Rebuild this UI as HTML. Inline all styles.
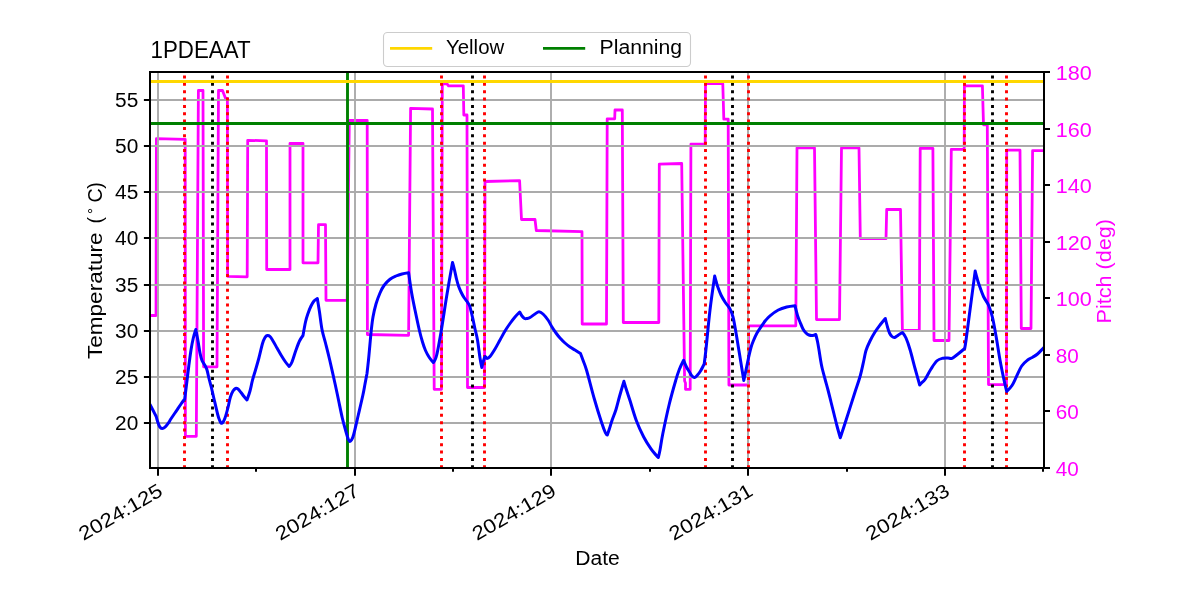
<!DOCTYPE html>
<html><head><meta charset="utf-8"><title>1PDEAAT</title>
<style>html,body{margin:0;padding:0;background:#fff;}body{width:1200px;height:600px;overflow:hidden;}svg{display:block;will-change:transform;}text{font-family:"Liberation Sans", sans-serif;}</style>
</head><body>
<svg width="1200" height="600" viewBox="0 0 1200 600">
<rect width="1200" height="600" fill="#fff"/>
<defs><clipPath id="ax"><rect x="150.0" y="72.0" width="894.0" height="396.0"/></clipPath></defs>
<g clip-path="url(#ax)"><path d="M150.0 315.5L156.0 315.5L156.4 138.7L185.2 139.3L185.4 436.3L196.3 436.3L198.4 90.5L203.0 90.5L203.6 366.8L217.0 366.8L218.5 90.5L222.5 90.5L225.5 98.3L227.4 98.3L227.6 276.3L247.2 276.8L247.7 140.3L266.5 140.8L266.7 269.5L290.0 269.5L290.0 143.3L303.0 143.5L303.0 262.8L318.0 262.8L318.5 224.7L325.5 224.7L326.0 300.3L347.2 300.3L349.3 120.5L367.2 120.5L367.4 334.5L408.6 335.3L410.6 108.3L432.5 109.0L434.2 389.3L441.5 389.3L442.3 83.8L447.0 83.8L448.5 85.8L463.3 85.8L463.8 115.0L467.0 115.0L467.5 387.5L484.5 387.5L485.0 181.5L519.6 180.7L521.5 219.5L535.0 219.5L536.3 230.5L582.0 231.7L582.2 324.0L606.5 324.0L607.2 118.8L614.7 118.8L615.0 110.0L622.3 110.0L623.3 322.5L658.8 322.5L659.3 164.2L681.7 163.5L684.6 381.0L685.5 383.0L685.5 389.3L690.2 389.3L690.9 144.2L705.2 144.2L705.5 83.7L722.8 83.7L723.8 119.2L728.2 119.2L728.9 385.0L748.3 385.0L748.5 325.8L795.8 325.8L797.0 147.8L814.5 147.8L816.5 319.6L839.5 319.6L841.5 147.8L859.0 147.8L860.3 238.7L886.0 238.7L886.7 209.5L900.5 209.5L902.4 330.3L919.3 330.3L920.2 148.3L932.9 148.3L934.0 340.5L949.0 340.5L951.3 149.3L964.2 149.3L964.4 85.8L982.4 85.8L983.5 124.8L987.3 124.8L988.5 384.6L1006.5 384.6L1006.7 150.2L1020.0 150.2L1021.3 328.5L1031.0 328.5L1032.6 150.7L1044.0 150.7" fill="none" stroke="#ff00ff" stroke-width="2.78" stroke-linejoin="round" stroke-linecap="butt"/></g>
<path d="M158.00 72.0V468.0M355.00 72.0V468.0M551.00 72.0V468.0M748.00 72.0V468.0M945.00 72.0V468.0M150.0 423.00H1044.0M150.0 377.00H1044.0M150.0 331.00H1044.0M150.0 285.00H1044.0M150.0 238.00H1044.0M150.0 192.00H1044.0M150.0 146.00H1044.0M150.0 100.00H1044.0" stroke="#ababab" stroke-width="1.9" fill="none"/>
<line x1="184.5" y1="468.3" x2="184.5" y2="72.0" stroke="#ff0000" stroke-width="2.9" stroke-dasharray="3.0 4.355"/>
<line x1="227.5" y1="468.3" x2="227.5" y2="72.0" stroke="#ff0000" stroke-width="2.9" stroke-dasharray="3.0 4.355"/>
<line x1="441.5" y1="468.3" x2="441.5" y2="72.0" stroke="#ff0000" stroke-width="2.9" stroke-dasharray="3.0 4.355"/>
<line x1="484.5" y1="468.3" x2="484.5" y2="72.0" stroke="#ff0000" stroke-width="2.9" stroke-dasharray="3.0 4.355"/>
<line x1="705.5" y1="468.3" x2="705.5" y2="72.0" stroke="#ff0000" stroke-width="2.9" stroke-dasharray="3.0 4.355"/>
<line x1="748.5" y1="468.3" x2="748.5" y2="72.0" stroke="#ff0000" stroke-width="2.9" stroke-dasharray="3.0 4.355"/>
<line x1="964.5" y1="468.3" x2="964.5" y2="72.0" stroke="#ff0000" stroke-width="2.9" stroke-dasharray="3.0 4.355"/>
<line x1="1006.5" y1="468.3" x2="1006.5" y2="72.0" stroke="#ff0000" stroke-width="2.9" stroke-dasharray="3.0 4.355"/>
<line x1="212.5" y1="468.3" x2="212.5" y2="72.0" stroke="#000" stroke-width="2.9" stroke-dasharray="3.0 4.355"/>
<line x1="472.5" y1="468.3" x2="472.5" y2="72.0" stroke="#000" stroke-width="2.9" stroke-dasharray="3.0 4.355"/>
<line x1="732.5" y1="468.3" x2="732.5" y2="72.0" stroke="#000" stroke-width="2.9" stroke-dasharray="3.0 4.355"/>
<line x1="992.5" y1="468.3" x2="992.5" y2="72.0" stroke="#000" stroke-width="2.9" stroke-dasharray="3.0 4.355"/>
<line x1="347.5" y1="72.0" x2="347.5" y2="468.0" stroke="#008000" stroke-width="2.9"/>
<line x1="150.0" y1="81.5" x2="1044.0" y2="81.5" stroke="#ffd700" stroke-width="2.8"/>
<line x1="150.0" y1="123.5" x2="1044.0" y2="123.5" stroke="#008000" stroke-width="2.9"/>
<g clip-path="url(#ax)"><path d="M150.00 404.50C150.00 404.50 151.97 408.30 153.00 410.30C154.03 412.30 156.20 416.50 156.20 416.50C156.20 416.50 157.03 419.92 157.60 421.60C158.17 423.28 158.83 425.43 159.60 426.60C160.37 427.77 161.30 428.50 162.20 428.60C163.10 428.70 163.98 428.10 165.00 427.20C166.02 426.30 167.30 424.60 168.30 423.20C169.30 421.80 169.65 420.87 171.00 418.80C172.35 416.73 174.73 413.27 176.40 410.80C178.07 408.33 179.62 405.97 181.00 404.00C182.38 402.03 184.70 399.00 184.70 399.00C184.70 399.00 186.22 387.10 186.90 381.60C187.58 376.10 188.12 371.27 188.80 366.00C189.48 360.73 190.25 354.67 191.00 350.00C191.75 345.33 192.50 341.42 193.30 338.00C194.10 334.58 195.80 329.50 195.80 329.50C195.80 329.50 197.30 337.08 198.00 341.00C198.70 344.92 199.33 349.75 200.00 353.00C200.67 356.25 201.17 358.42 202.00 360.50C202.83 362.58 204.17 363.92 205.00 365.50C205.83 367.08 206.33 367.83 207.00 370.00C207.67 372.17 208.25 375.50 209.00 378.50C209.75 381.50 210.70 384.75 211.50 388.00C212.30 391.25 212.77 393.58 213.80 398.00C214.83 402.42 216.75 410.83 217.70 414.50C218.65 418.17 218.95 418.58 219.50 420.00C220.05 421.42 220.45 422.58 221.00 423.00C221.55 423.42 222.13 423.33 222.80 422.50C223.47 421.67 224.13 420.50 225.00 418.00C225.87 415.50 227.10 411.00 228.00 407.50C228.90 404.00 229.57 399.75 230.40 397.00C231.23 394.25 232.15 392.42 233.00 391.00C233.85 389.58 234.67 388.83 235.50 388.50C236.33 388.17 237.08 388.33 238.00 389.00C238.92 389.67 240.00 391.25 241.00 392.50C242.00 393.75 243.00 395.25 244.00 396.50C245.00 397.75 247.00 400.00 247.00 400.00C247.00 400.00 249.08 394.30 250.00 391.00C250.92 387.70 251.58 383.70 252.50 380.20C253.42 376.70 254.43 373.70 255.50 370.00C256.57 366.30 257.73 362.42 258.90 358.00C260.07 353.58 261.48 346.92 262.50 343.50C263.52 340.08 264.20 338.83 265.00 337.50C265.80 336.17 266.47 335.67 267.30 335.50C268.13 335.33 269.05 335.58 270.00 336.50C270.95 337.42 271.83 339.08 273.00 341.00C274.17 342.92 275.67 345.67 277.00 348.00C278.33 350.33 279.58 352.67 281.00 355.00C282.42 357.33 284.13 360.08 285.50 362.00C286.87 363.92 289.20 366.50 289.20 366.50C289.20 366.50 290.87 364.75 292.00 362.00C293.13 359.25 294.75 353.50 296.00 350.00C297.25 346.50 298.33 343.42 299.50 341.00C300.67 338.58 303.00 335.50 303.00 335.50C303.00 335.50 304.67 325.67 305.50 322.00C306.33 318.33 307.08 316.17 308.00 313.50C308.92 310.83 310.00 308.08 311.00 306.00C312.00 303.92 312.95 302.25 314.00 301.00C315.05 299.75 317.30 298.50 317.30 298.50C317.30 298.50 318.72 306.83 319.50 312.00C320.28 317.17 321.00 324.33 322.00 329.50C323.00 334.67 324.22 337.92 325.50 343.00C326.78 348.08 328.12 353.25 329.70 360.00C331.28 366.75 333.53 376.83 335.00 383.50C336.47 390.17 337.28 394.25 338.50 400.00C339.72 405.75 341.13 413.00 342.30 418.00C343.47 423.00 344.55 426.58 345.50 430.00C346.45 433.42 347.32 436.62 348.00 438.50C348.68 440.38 349.02 441.05 349.60 441.30C350.18 441.55 350.82 441.13 351.50 440.00C352.18 438.87 352.57 438.67 353.70 434.50C354.83 430.33 356.77 421.58 358.30 415.00C359.83 408.42 361.78 400.17 362.90 395.00C364.02 389.83 364.32 387.58 365.00 384.00C365.68 380.42 367.00 373.50 367.00 373.50C367.00 373.50 368.03 364.58 368.50 360.00C368.97 355.42 369.35 350.83 369.80 346.00C370.25 341.17 370.67 335.83 371.20 331.00C371.73 326.17 372.20 321.50 373.00 317.00C373.80 312.50 374.83 308.00 376.00 304.00C377.17 300.00 378.67 296.08 380.00 293.00C381.33 289.92 382.33 287.78 384.00 285.50C385.67 283.22 388.00 280.88 390.00 279.30C392.00 277.72 394.00 276.88 396.00 276.00C398.00 275.12 399.90 274.53 402.00 274.00C404.10 273.47 408.60 272.80 408.60 272.80C408.60 272.80 410.63 287.10 411.70 293.30C412.77 299.50 413.73 303.88 415.00 310.00C416.27 316.12 418.05 324.67 419.30 330.00C420.55 335.33 421.47 338.58 422.50 342.00C423.53 345.42 424.37 347.92 425.50 350.50C426.63 353.08 428.00 355.50 429.30 357.50C430.60 359.50 433.30 362.50 433.30 362.50C433.30 362.50 435.30 360.75 436.70 355.00C438.10 349.25 440.03 337.83 441.70 328.00C443.37 318.17 444.90 306.92 446.70 296.00C448.50 285.08 452.50 262.50 452.50 262.50C452.50 262.50 453.83 267.25 454.50 270.00C455.17 272.75 455.83 276.33 456.50 279.00C457.17 281.67 457.75 283.83 458.50 286.00C459.25 288.17 460.08 290.08 461.00 292.00C461.92 293.92 463.00 295.92 464.00 297.50C465.00 299.08 466.08 300.17 467.00 301.50C467.92 302.83 468.83 303.92 469.50 305.50C470.17 307.08 470.45 308.83 471.00 311.00C471.55 313.17 472.13 315.50 472.80 318.50C473.47 321.50 474.22 325.42 475.00 329.00C475.78 332.58 476.67 335.17 477.50 340.00C478.33 344.83 479.28 353.42 480.00 358.00C480.72 362.58 481.80 367.50 481.80 367.50C481.80 367.50 483.93 358.50 484.80 357.00C485.67 355.50 486.13 358.58 487.00 358.50C487.87 358.42 488.67 358.08 490.00 356.50C491.33 354.92 493.33 351.75 495.00 349.00C496.67 346.25 498.33 343.00 500.00 340.00C501.67 337.00 503.33 333.75 505.00 331.00C506.67 328.25 508.33 325.83 510.00 323.50C511.67 321.17 513.38 318.92 515.00 317.00C516.62 315.08 519.70 312.00 519.70 312.00C519.70 312.00 521.20 314.92 522.00 316.00C522.80 317.08 523.67 318.08 524.50 318.50C525.33 318.92 526.08 318.67 527.00 318.50C527.92 318.33 528.67 318.25 530.00 317.50C531.33 316.75 533.50 314.95 535.00 314.00C536.50 313.05 537.67 311.80 539.00 311.80C540.33 311.80 541.50 312.63 543.00 314.00C544.50 315.37 546.50 317.83 548.00 320.00C549.50 322.17 550.67 324.83 552.00 327.00C553.33 329.17 554.67 331.17 556.00 333.00C557.33 334.83 558.50 336.33 560.00 338.00C561.50 339.67 563.33 341.50 565.00 343.00C566.67 344.50 568.33 345.83 570.00 347.00C571.67 348.17 573.25 348.92 575.00 350.00C576.75 351.08 580.50 353.50 580.50 353.50C580.50 353.50 582.25 358.08 583.30 361.00C584.35 363.92 584.98 364.75 586.80 371.00C588.62 377.25 591.75 389.95 594.20 398.50C596.65 407.05 599.62 416.55 601.50 422.30C603.38 428.05 604.53 430.88 605.50 433.00C606.47 435.12 607.30 435.00 607.30 435.00C607.30 435.00 608.72 430.92 609.50 428.50C610.28 426.08 610.92 423.67 612.00 420.50C613.08 417.33 614.75 413.50 616.00 409.50C617.25 405.50 618.18 401.20 619.50 396.50C620.82 391.80 623.90 381.30 623.90 381.30C623.90 381.30 625.50 386.83 626.50 390.00C627.50 393.17 628.27 395.22 629.90 400.30C631.53 405.38 634.00 414.38 636.30 420.50C638.60 426.62 641.25 432.27 643.70 437.00C646.15 441.73 648.95 445.90 651.00 448.90C653.05 451.90 654.78 453.57 656.00 455.00C657.22 456.43 658.30 457.50 658.30 457.50C658.30 457.50 659.23 454.03 660.00 450.00C660.77 445.97 661.35 440.97 662.90 433.30C664.45 425.63 667.15 412.85 669.30 404.00C671.45 395.15 674.13 385.95 675.80 380.20C677.47 374.45 678.00 372.82 679.30 369.50C680.60 366.18 683.60 360.30 683.60 360.30C683.60 360.30 685.52 365.05 686.50 367.00C687.48 368.95 688.58 370.50 689.50 372.00C690.42 373.50 691.15 375.08 692.00 376.00C692.85 376.92 693.68 377.67 694.60 377.50C695.52 377.33 696.52 376.08 697.50 375.00C698.48 373.92 699.38 372.83 700.50 371.00C701.62 369.17 704.20 364.00 704.20 364.00C704.20 364.00 705.03 358.00 706.00 349.00C706.97 340.00 708.55 322.17 710.00 310.00C711.45 297.83 714.70 276.00 714.70 276.00C714.70 276.00 715.75 280.08 716.30 282.00C716.85 283.92 717.22 285.33 718.00 287.50C718.78 289.67 719.83 292.58 721.00 295.00C722.17 297.42 723.83 300.17 725.00 302.00C726.17 303.83 727.12 304.75 728.00 306.00C728.88 307.25 729.47 307.67 730.30 309.50C731.13 311.33 732.22 314.08 733.00 317.00C733.78 319.92 734.12 322.05 735.00 327.00C735.88 331.95 737.33 340.87 738.30 346.70C739.27 352.53 739.88 356.37 740.80 362.00C741.72 367.63 743.80 380.50 743.80 380.50C743.80 380.50 745.20 373.83 746.00 370.00C746.80 366.17 747.77 361.25 748.60 357.50C749.43 353.75 750.22 350.25 751.00 347.50C751.78 344.75 752.30 343.42 753.30 341.00C754.30 338.58 755.60 335.53 757.00 333.00C758.40 330.47 760.28 327.88 761.70 325.80C763.12 323.72 764.12 322.17 765.50 320.50C766.88 318.83 767.87 317.55 770.00 315.80C772.13 314.05 775.52 311.47 778.30 310.00C781.08 308.53 783.92 307.72 786.70 307.00C789.48 306.28 795.00 305.70 795.00 305.70C795.00 305.70 796.67 312.78 797.50 315.50C798.33 318.22 799.08 319.75 800.00 322.00C800.92 324.25 802.00 327.17 803.00 329.00C804.00 330.83 805.00 332.00 806.00 333.00C807.00 334.00 807.92 334.58 809.00 335.00C810.08 335.42 811.37 335.58 812.50 335.50C813.63 335.42 815.80 334.50 815.80 334.50C815.80 334.50 816.97 338.92 817.50 341.50C818.03 344.08 818.50 347.00 819.00 350.00C819.50 353.00 820.00 356.58 820.50 359.50C821.00 362.42 821.25 364.25 822.00 367.50C822.75 370.75 824.00 375.25 825.00 379.00C826.00 382.75 827.00 386.17 828.00 390.00C829.00 393.83 830.00 398.00 831.00 402.00C832.00 406.00 833.00 410.00 834.00 414.00C835.00 418.00 835.95 422.03 837.00 426.00C838.05 429.97 840.30 437.80 840.30 437.80C840.30 437.80 844.10 426.17 846.50 418.70C848.90 411.23 852.42 400.12 854.70 393.00C856.98 385.88 858.67 381.50 860.20 376.00C861.73 370.50 862.93 364.25 863.90 360.00C864.87 355.75 864.98 353.67 866.00 350.50C867.02 347.33 868.50 344.08 870.00 341.00C871.50 337.92 873.33 334.67 875.00 332.00C876.67 329.33 878.28 327.25 880.00 325.00C881.72 322.75 885.30 318.50 885.30 318.50C885.30 318.50 886.80 324.58 887.50 327.00C888.20 329.42 888.75 331.42 889.50 333.00C890.25 334.58 891.17 335.75 892.00 336.50C892.83 337.25 893.67 337.58 894.50 337.50C895.33 337.42 896.17 336.53 897.00 336.00C897.83 335.47 898.58 334.88 899.50 334.30C900.42 333.72 902.50 332.50 902.50 332.50C902.50 332.50 904.75 335.17 906.00 338.00C907.25 340.83 908.47 344.33 910.00 349.50C911.53 354.67 913.58 363.08 915.20 369.00C916.82 374.92 919.70 385.00 919.70 385.00C919.70 385.00 921.12 383.42 922.00 382.50C922.88 381.58 923.50 381.75 925.00 379.50C926.50 377.25 929.00 372.12 931.00 369.00C933.00 365.88 935.00 362.55 937.00 360.75C939.00 358.95 941.17 358.66 943.00 358.20C944.83 357.74 946.50 357.98 948.00 358.00C949.50 358.02 950.33 358.97 952.00 358.30C953.67 357.63 955.88 355.63 958.00 354.00C960.12 352.37 964.70 348.50 964.70 348.50C964.70 348.50 965.32 345.42 966.20 339.00C967.08 332.58 968.50 321.33 970.00 310.00C971.50 298.67 975.20 271.00 975.20 271.00C975.20 271.00 976.37 275.75 977.00 278.00C977.63 280.25 977.92 281.42 979.00 284.50C980.08 287.58 981.88 293.00 983.50 296.50C985.12 300.00 987.20 302.00 988.70 305.50C990.20 309.00 991.25 312.25 992.50 317.50C993.75 322.75 994.95 329.92 996.20 337.00C997.45 344.08 998.70 352.83 1000.00 360.00C1001.30 367.17 1002.88 374.75 1004.00 380.00C1005.12 385.25 1006.70 391.50 1006.70 391.50C1006.70 391.50 1010.37 388.00 1012.00 385.50C1013.63 383.00 1014.88 379.75 1016.50 376.50C1018.12 373.25 1019.83 368.75 1021.70 366.00C1023.57 363.25 1025.82 361.50 1027.70 360.00C1029.58 358.50 1031.37 358.00 1033.00 357.00C1034.63 356.00 1035.88 355.38 1037.50 354.00C1039.12 352.62 1041.62 349.83 1042.70 348.75C1043.78 347.67 1044.00 347.50 1044.00 347.50" fill="none" stroke="#0000ff" stroke-width="3.0" stroke-linejoin="round" stroke-linecap="round"/></g>
<rect x="150.0" y="72.0" width="894.0" height="396.0" fill="none" stroke="#000" stroke-width="2.0" stroke-linejoin="miter"/>
<path d="M143.9 423.00H150.0M143.9 377.00H150.0M143.9 331.00H150.0M143.9 285.00H150.0M143.9 238.00H150.0M143.9 192.00H150.0M143.9 146.00H150.0M143.9 100.00H150.0M1044.0 468.00H1050.0M1044.0 411.00H1050.0M1044.0 355.00H1050.0M1044.0 298.00H1050.0M1044.0 242.00H1050.0M1044.0 185.00H1050.0M1044.0 129.00H1050.0M1044.0 72.00H1050.0M158.00 468.0V475.8M355.00 468.0V475.8M551.00 468.0V475.8M748.00 468.0V475.8M945.00 468.0V475.8M256.00 468.0V471.8M453.00 468.0V471.8M650.00 468.0V471.8M847.00 468.0V471.8M1043.00 468.0V471.8" stroke="#000" stroke-width="2.0" fill="none"/>
<text x="138.3" y="429.70" font-size="19.5" text-anchor="end" fill="#000" textLength="23.2" lengthAdjust="spacingAndGlyphs">20</text>
<text x="138.3" y="383.70" font-size="19.5" text-anchor="end" fill="#000" textLength="23.2" lengthAdjust="spacingAndGlyphs">25</text>
<text x="138.3" y="337.70" font-size="19.5" text-anchor="end" fill="#000" textLength="23.2" lengthAdjust="spacingAndGlyphs">30</text>
<text x="138.3" y="291.70" font-size="19.5" text-anchor="end" fill="#000" textLength="23.2" lengthAdjust="spacingAndGlyphs">35</text>
<text x="138.3" y="244.70" font-size="19.5" text-anchor="end" fill="#000" textLength="23.2" lengthAdjust="spacingAndGlyphs">40</text>
<text x="138.3" y="198.70" font-size="19.5" text-anchor="end" fill="#000" textLength="23.2" lengthAdjust="spacingAndGlyphs">45</text>
<text x="138.3" y="152.70" font-size="19.5" text-anchor="end" fill="#000" textLength="23.2" lengthAdjust="spacingAndGlyphs">50</text>
<text x="138.3" y="106.70" font-size="19.5" text-anchor="end" fill="#000" textLength="23.2" lengthAdjust="spacingAndGlyphs">55</text>
<text x="1055.7" y="475.80" font-size="19.5" fill="#ff00ff" textLength="23.0" lengthAdjust="spacingAndGlyphs">40</text>
<text x="1055.7" y="418.80" font-size="19.5" fill="#ff00ff" textLength="23.0" lengthAdjust="spacingAndGlyphs">60</text>
<text x="1055.7" y="362.80" font-size="19.5" fill="#ff00ff" textLength="23.0" lengthAdjust="spacingAndGlyphs">80</text>
<text x="1055.7" y="305.80" font-size="19.5" fill="#ff00ff" textLength="36.0" lengthAdjust="spacingAndGlyphs">100</text>
<text x="1055.7" y="249.80" font-size="19.5" fill="#ff00ff" textLength="36.0" lengthAdjust="spacingAndGlyphs">120</text>
<text x="1055.7" y="192.80" font-size="19.5" fill="#ff00ff" textLength="36.0" lengthAdjust="spacingAndGlyphs">140</text>
<text x="1055.7" y="136.80" font-size="19.5" fill="#ff00ff" textLength="36.0" lengthAdjust="spacingAndGlyphs">160</text>
<text x="1055.7" y="79.80" font-size="19.5" fill="#ff00ff" textLength="36.0" lengthAdjust="spacingAndGlyphs">180</text>
<text transform="translate(164.00,494.60) rotate(-30)" font-size="19.5" text-anchor="end" fill="#000" textLength="93" lengthAdjust="spacingAndGlyphs">2024:125</text>
<text transform="translate(360.75,494.60) rotate(-30)" font-size="19.5" text-anchor="end" fill="#000" textLength="93" lengthAdjust="spacingAndGlyphs">2024:127</text>
<text transform="translate(557.50,494.60) rotate(-30)" font-size="19.5" text-anchor="end" fill="#000" textLength="93" lengthAdjust="spacingAndGlyphs">2024:129</text>
<text transform="translate(754.25,494.60) rotate(-30)" font-size="19.5" text-anchor="end" fill="#000" textLength="93" lengthAdjust="spacingAndGlyphs">2024:131</text>
<text transform="translate(951.00,494.60) rotate(-30)" font-size="19.5" text-anchor="end" fill="#000" textLength="93" lengthAdjust="spacingAndGlyphs">2024:133</text>
<text x="597.5" y="564.8" font-size="19.5" text-anchor="middle" fill="#000" textLength="44.5" lengthAdjust="spacingAndGlyphs">Date</text>
<g transform="translate(102.3,271) rotate(-90)">
<text x="-88" y="0" font-size="19.5" fill="#000" textLength="126.5" lengthAdjust="spacingAndGlyphs">Temperature</text>
<text x="47.6" y="0" font-size="19.5" fill="#000">(</text>
<circle cx="60" cy="-12.2" r="1.7" fill="none" stroke="#000" stroke-width="0.85"/>
<text x="68.4" y="0" font-size="19.5" fill="#000" textLength="14.2" lengthAdjust="spacingAndGlyphs">C</text>
<text x="82.2" y="0" font-size="19.5" fill="#000">)</text>
</g>
<text transform="translate(1111.2,271.2) rotate(-90)" font-size="19.5" text-anchor="middle" fill="#ff00ff" textLength="104.5" lengthAdjust="spacingAndGlyphs">Pitch (deg)</text>
<text x="150.6" y="57.8" font-size="23.3" fill="#000" textLength="100" lengthAdjust="spacingAndGlyphs">1PDEAAT</text>
<rect x="383.5" y="32.5" width="307" height="34" rx="4" ry="4" fill="#fff" fill-opacity="0.8" stroke="#cccccc" stroke-width="1.1"/>
<line x1="390" y1="48.4" x2="432.2" y2="48.4" stroke="#ffd700" stroke-width="2.8"/>
<text x="446" y="53.9" font-size="19.5" fill="#000" textLength="58.2" lengthAdjust="spacingAndGlyphs">Yellow</text>
<line x1="543" y1="48.4" x2="585.2" y2="48.4" stroke="#008000" stroke-width="2.8"/>
<text x="599.6" y="53.9" font-size="19.5" fill="#000" textLength="82.4" lengthAdjust="spacingAndGlyphs">Planning</text>
</svg>
</body></html>
